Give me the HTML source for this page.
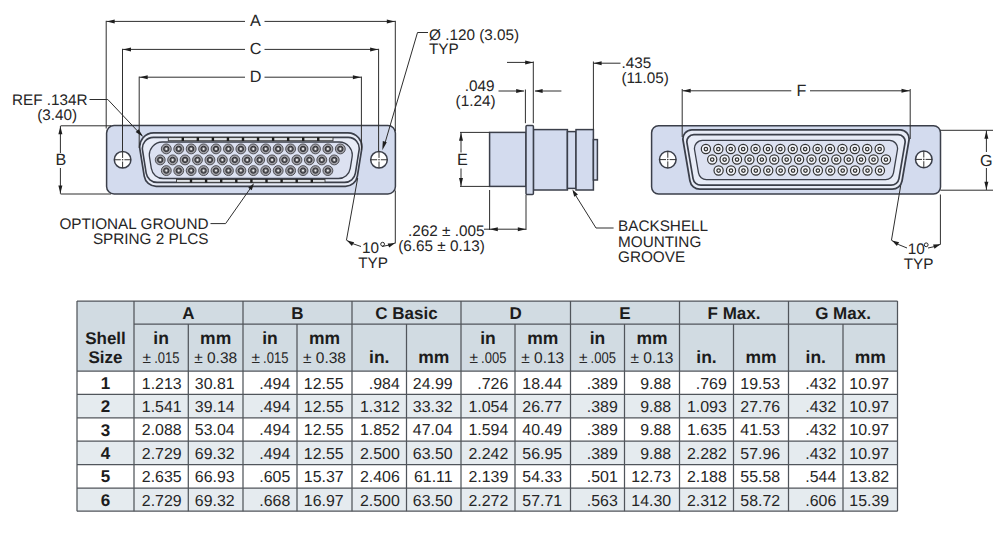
<!DOCTYPE html>
<html><head><meta charset="utf-8"><style>html,body{margin:0;padding:0;background:#fff;width:1000px;height:537px;overflow:hidden;position:relative}</style></head><body>
<svg width="1000" height="537" viewBox="0 0 1000 537" style="position:absolute;left:0;top:0;font-family:'Liberation Sans', sans-serif;text-rendering:geometricPrecision">
<rect width="1000" height="537" fill="#fff"/>
<rect x="106.6" y="125.6" width="288.8" height="68.4" rx="7.5" fill="#d3dbee" stroke="#3b3f4a" stroke-width="1.5"/>
<path d="M153.71,132.80 L347.89,132.80 A14,14 0 0 1 361.72,149.01 L357.37,176.20 A12,12 0 0 1 345.52,186.30 L156.08,186.30 A12,12 0 0 1 144.23,176.20 L139.88,149.01 A14,14 0 0 1 153.71,132.80Z" fill="#e8ecf7" stroke="#3b3f4a" stroke-width="1.7"/>
<path d="M153.37,137.40 L348.23,137.40 A11,11 0 0 1 359.09,150.14 L355.41,173.14 A11,11 0 0 1 344.55,182.40 L157.05,182.40 A11,11 0 0 1 146.19,173.14 L142.51,150.14 A11,11 0 0 1 153.37,137.40Z" fill="#e8ecf7" stroke="#3b3f4a" stroke-width="1.6"/>
<path d="M162.35,142.00 L339.25,142.00 A13,13 0 0 1 352.09,157.05 L350.27,168.40 A12,12 0 0 1 338.42,178.50 L163.18,178.50 A12,12 0 0 1 151.33,168.40 L149.51,157.05 A13,13 0 0 1 162.35,142.00Z" fill="#dce1f1" stroke="#3b3f4a" stroke-width="1.3"/>
<rect x="168.3" y="137.6" width="164.7" height="3.0999999999999943" fill="#e2e5ea" stroke="#3a3a3a" stroke-width="0.9"/>
<rect x="181.60" y="137.29999999999998" width="2.4" height="3.6999999999999944" fill="#1e1e1e"/>
<rect x="196.65" y="137.29999999999998" width="2.4" height="3.6999999999999944" fill="#1e1e1e"/>
<rect x="211.70" y="137.29999999999998" width="2.4" height="3.6999999999999944" fill="#1e1e1e"/>
<rect x="226.75" y="137.29999999999998" width="2.4" height="3.6999999999999944" fill="#1e1e1e"/>
<rect x="241.80" y="137.29999999999998" width="2.4" height="3.6999999999999944" fill="#1e1e1e"/>
<rect x="256.85" y="137.29999999999998" width="2.4" height="3.6999999999999944" fill="#1e1e1e"/>
<rect x="271.90" y="137.29999999999998" width="2.4" height="3.6999999999999944" fill="#1e1e1e"/>
<rect x="286.95" y="137.29999999999998" width="2.4" height="3.6999999999999944" fill="#1e1e1e"/>
<rect x="302.00" y="137.29999999999998" width="2.4" height="3.6999999999999944" fill="#1e1e1e"/>
<rect x="317.05" y="137.29999999999998" width="2.4" height="3.6999999999999944" fill="#1e1e1e"/>
<rect x="176.5" y="179.5" width="148.5" height="2.8000000000000114" fill="#e2e5ea" stroke="#3a3a3a" stroke-width="0.9"/>
<rect x="189.80" y="179.2" width="2.4" height="3.4000000000000115" fill="#1e1e1e"/>
<rect x="204.90" y="179.2" width="2.4" height="3.4000000000000115" fill="#1e1e1e"/>
<rect x="220.00" y="179.2" width="2.4" height="3.4000000000000115" fill="#1e1e1e"/>
<rect x="235.10" y="179.2" width="2.4" height="3.4000000000000115" fill="#1e1e1e"/>
<rect x="250.20" y="179.2" width="2.4" height="3.4000000000000115" fill="#1e1e1e"/>
<rect x="265.30" y="179.2" width="2.4" height="3.4000000000000115" fill="#1e1e1e"/>
<rect x="280.40" y="179.2" width="2.4" height="3.4000000000000115" fill="#1e1e1e"/>
<rect x="295.50" y="179.2" width="2.4" height="3.4000000000000115" fill="#1e1e1e"/>
<rect x="310.60" y="179.2" width="2.4" height="3.4000000000000115" fill="#1e1e1e"/>
<circle cx="166.30" cy="148.9" r="4.95" fill="#a0a0a6" stroke="#4a4a50" stroke-width="0.95"/>
<circle cx="166.30" cy="148.9" r="2.65" fill="#66666c" stroke="#2e2e32" stroke-width="1.0"/>
<circle cx="166.30" cy="148.9" r="1.05" fill="#eeeeee"/>
<circle cx="178.73" cy="148.9" r="4.95" fill="#a0a0a6" stroke="#4a4a50" stroke-width="0.95"/>
<circle cx="178.73" cy="148.9" r="2.65" fill="#66666c" stroke="#2e2e32" stroke-width="1.0"/>
<circle cx="178.73" cy="148.9" r="1.05" fill="#eeeeee"/>
<circle cx="191.16" cy="148.9" r="4.95" fill="#a0a0a6" stroke="#4a4a50" stroke-width="0.95"/>
<circle cx="191.16" cy="148.9" r="2.65" fill="#66666c" stroke="#2e2e32" stroke-width="1.0"/>
<circle cx="191.16" cy="148.9" r="1.05" fill="#eeeeee"/>
<circle cx="203.59" cy="148.9" r="4.95" fill="#a0a0a6" stroke="#4a4a50" stroke-width="0.95"/>
<circle cx="203.59" cy="148.9" r="2.65" fill="#66666c" stroke="#2e2e32" stroke-width="1.0"/>
<circle cx="203.59" cy="148.9" r="1.05" fill="#eeeeee"/>
<circle cx="216.02" cy="148.9" r="4.95" fill="#a0a0a6" stroke="#4a4a50" stroke-width="0.95"/>
<circle cx="216.02" cy="148.9" r="2.65" fill="#66666c" stroke="#2e2e32" stroke-width="1.0"/>
<circle cx="216.02" cy="148.9" r="1.05" fill="#eeeeee"/>
<circle cx="228.45" cy="148.9" r="4.95" fill="#a0a0a6" stroke="#4a4a50" stroke-width="0.95"/>
<circle cx="228.45" cy="148.9" r="2.65" fill="#66666c" stroke="#2e2e32" stroke-width="1.0"/>
<circle cx="228.45" cy="148.9" r="1.05" fill="#eeeeee"/>
<circle cx="240.88" cy="148.9" r="4.95" fill="#a0a0a6" stroke="#4a4a50" stroke-width="0.95"/>
<circle cx="240.88" cy="148.9" r="2.65" fill="#66666c" stroke="#2e2e32" stroke-width="1.0"/>
<circle cx="240.88" cy="148.9" r="1.05" fill="#eeeeee"/>
<circle cx="253.31" cy="148.9" r="4.95" fill="#a0a0a6" stroke="#4a4a50" stroke-width="0.95"/>
<circle cx="253.31" cy="148.9" r="2.65" fill="#66666c" stroke="#2e2e32" stroke-width="1.0"/>
<circle cx="253.31" cy="148.9" r="1.05" fill="#eeeeee"/>
<circle cx="265.74" cy="148.9" r="4.95" fill="#a0a0a6" stroke="#4a4a50" stroke-width="0.95"/>
<circle cx="265.74" cy="148.9" r="2.65" fill="#66666c" stroke="#2e2e32" stroke-width="1.0"/>
<circle cx="265.74" cy="148.9" r="1.05" fill="#eeeeee"/>
<circle cx="278.17" cy="148.9" r="4.95" fill="#a0a0a6" stroke="#4a4a50" stroke-width="0.95"/>
<circle cx="278.17" cy="148.9" r="2.65" fill="#66666c" stroke="#2e2e32" stroke-width="1.0"/>
<circle cx="278.17" cy="148.9" r="1.05" fill="#eeeeee"/>
<circle cx="290.60" cy="148.9" r="4.95" fill="#a0a0a6" stroke="#4a4a50" stroke-width="0.95"/>
<circle cx="290.60" cy="148.9" r="2.65" fill="#66666c" stroke="#2e2e32" stroke-width="1.0"/>
<circle cx="290.60" cy="148.9" r="1.05" fill="#eeeeee"/>
<circle cx="303.03" cy="148.9" r="4.95" fill="#a0a0a6" stroke="#4a4a50" stroke-width="0.95"/>
<circle cx="303.03" cy="148.9" r="2.65" fill="#66666c" stroke="#2e2e32" stroke-width="1.0"/>
<circle cx="303.03" cy="148.9" r="1.05" fill="#eeeeee"/>
<circle cx="315.46" cy="148.9" r="4.95" fill="#a0a0a6" stroke="#4a4a50" stroke-width="0.95"/>
<circle cx="315.46" cy="148.9" r="2.65" fill="#66666c" stroke="#2e2e32" stroke-width="1.0"/>
<circle cx="315.46" cy="148.9" r="1.05" fill="#eeeeee"/>
<circle cx="327.89" cy="148.9" r="4.95" fill="#a0a0a6" stroke="#4a4a50" stroke-width="0.95"/>
<circle cx="327.89" cy="148.9" r="2.65" fill="#66666c" stroke="#2e2e32" stroke-width="1.0"/>
<circle cx="327.89" cy="148.9" r="1.05" fill="#eeeeee"/>
<circle cx="340.32" cy="148.9" r="4.95" fill="#a0a0a6" stroke="#4a4a50" stroke-width="0.95"/>
<circle cx="340.32" cy="148.9" r="2.65" fill="#66666c" stroke="#2e2e32" stroke-width="1.0"/>
<circle cx="340.32" cy="148.9" r="1.05" fill="#eeeeee"/>
<circle cx="160.20" cy="159.9" r="4.95" fill="#a0a0a6" stroke="#4a4a50" stroke-width="0.95"/>
<circle cx="160.20" cy="159.9" r="2.65" fill="#66666c" stroke="#2e2e32" stroke-width="1.0"/>
<circle cx="160.20" cy="159.9" r="1.05" fill="#eeeeee"/>
<circle cx="172.63" cy="159.9" r="4.95" fill="#a0a0a6" stroke="#4a4a50" stroke-width="0.95"/>
<circle cx="172.63" cy="159.9" r="2.65" fill="#66666c" stroke="#2e2e32" stroke-width="1.0"/>
<circle cx="172.63" cy="159.9" r="1.05" fill="#eeeeee"/>
<circle cx="185.06" cy="159.9" r="4.95" fill="#a0a0a6" stroke="#4a4a50" stroke-width="0.95"/>
<circle cx="185.06" cy="159.9" r="2.65" fill="#66666c" stroke="#2e2e32" stroke-width="1.0"/>
<circle cx="185.06" cy="159.9" r="1.05" fill="#eeeeee"/>
<circle cx="197.49" cy="159.9" r="4.95" fill="#a0a0a6" stroke="#4a4a50" stroke-width="0.95"/>
<circle cx="197.49" cy="159.9" r="2.65" fill="#66666c" stroke="#2e2e32" stroke-width="1.0"/>
<circle cx="197.49" cy="159.9" r="1.05" fill="#eeeeee"/>
<circle cx="209.92" cy="159.9" r="4.95" fill="#a0a0a6" stroke="#4a4a50" stroke-width="0.95"/>
<circle cx="209.92" cy="159.9" r="2.65" fill="#66666c" stroke="#2e2e32" stroke-width="1.0"/>
<circle cx="209.92" cy="159.9" r="1.05" fill="#eeeeee"/>
<circle cx="222.35" cy="159.9" r="4.95" fill="#a0a0a6" stroke="#4a4a50" stroke-width="0.95"/>
<circle cx="222.35" cy="159.9" r="2.65" fill="#66666c" stroke="#2e2e32" stroke-width="1.0"/>
<circle cx="222.35" cy="159.9" r="1.05" fill="#eeeeee"/>
<circle cx="234.78" cy="159.9" r="4.95" fill="#a0a0a6" stroke="#4a4a50" stroke-width="0.95"/>
<circle cx="234.78" cy="159.9" r="2.65" fill="#66666c" stroke="#2e2e32" stroke-width="1.0"/>
<circle cx="234.78" cy="159.9" r="1.05" fill="#eeeeee"/>
<circle cx="247.21" cy="159.9" r="4.95" fill="#a0a0a6" stroke="#4a4a50" stroke-width="0.95"/>
<circle cx="247.21" cy="159.9" r="2.65" fill="#66666c" stroke="#2e2e32" stroke-width="1.0"/>
<circle cx="247.21" cy="159.9" r="1.05" fill="#eeeeee"/>
<circle cx="259.64" cy="159.9" r="4.95" fill="#a0a0a6" stroke="#4a4a50" stroke-width="0.95"/>
<circle cx="259.64" cy="159.9" r="2.65" fill="#66666c" stroke="#2e2e32" stroke-width="1.0"/>
<circle cx="259.64" cy="159.9" r="1.05" fill="#eeeeee"/>
<circle cx="272.07" cy="159.9" r="4.95" fill="#a0a0a6" stroke="#4a4a50" stroke-width="0.95"/>
<circle cx="272.07" cy="159.9" r="2.65" fill="#66666c" stroke="#2e2e32" stroke-width="1.0"/>
<circle cx="272.07" cy="159.9" r="1.05" fill="#eeeeee"/>
<circle cx="284.50" cy="159.9" r="4.95" fill="#a0a0a6" stroke="#4a4a50" stroke-width="0.95"/>
<circle cx="284.50" cy="159.9" r="2.65" fill="#66666c" stroke="#2e2e32" stroke-width="1.0"/>
<circle cx="284.50" cy="159.9" r="1.05" fill="#eeeeee"/>
<circle cx="296.93" cy="159.9" r="4.95" fill="#a0a0a6" stroke="#4a4a50" stroke-width="0.95"/>
<circle cx="296.93" cy="159.9" r="2.65" fill="#66666c" stroke="#2e2e32" stroke-width="1.0"/>
<circle cx="296.93" cy="159.9" r="1.05" fill="#eeeeee"/>
<circle cx="309.36" cy="159.9" r="4.95" fill="#a0a0a6" stroke="#4a4a50" stroke-width="0.95"/>
<circle cx="309.36" cy="159.9" r="2.65" fill="#66666c" stroke="#2e2e32" stroke-width="1.0"/>
<circle cx="309.36" cy="159.9" r="1.05" fill="#eeeeee"/>
<circle cx="321.79" cy="159.9" r="4.95" fill="#a0a0a6" stroke="#4a4a50" stroke-width="0.95"/>
<circle cx="321.79" cy="159.9" r="2.65" fill="#66666c" stroke="#2e2e32" stroke-width="1.0"/>
<circle cx="321.79" cy="159.9" r="1.05" fill="#eeeeee"/>
<circle cx="334.22" cy="159.9" r="4.95" fill="#a0a0a6" stroke="#4a4a50" stroke-width="0.95"/>
<circle cx="334.22" cy="159.9" r="2.65" fill="#66666c" stroke="#2e2e32" stroke-width="1.0"/>
<circle cx="334.22" cy="159.9" r="1.05" fill="#eeeeee"/>
<circle cx="166.30" cy="170.6" r="4.95" fill="#a0a0a6" stroke="#4a4a50" stroke-width="0.95"/>
<circle cx="166.30" cy="170.6" r="2.65" fill="#66666c" stroke="#2e2e32" stroke-width="1.0"/>
<circle cx="166.30" cy="170.6" r="1.05" fill="#eeeeee"/>
<circle cx="178.73" cy="170.6" r="4.95" fill="#a0a0a6" stroke="#4a4a50" stroke-width="0.95"/>
<circle cx="178.73" cy="170.6" r="2.65" fill="#66666c" stroke="#2e2e32" stroke-width="1.0"/>
<circle cx="178.73" cy="170.6" r="1.05" fill="#eeeeee"/>
<circle cx="191.16" cy="170.6" r="4.95" fill="#a0a0a6" stroke="#4a4a50" stroke-width="0.95"/>
<circle cx="191.16" cy="170.6" r="2.65" fill="#66666c" stroke="#2e2e32" stroke-width="1.0"/>
<circle cx="191.16" cy="170.6" r="1.05" fill="#eeeeee"/>
<circle cx="203.59" cy="170.6" r="4.95" fill="#a0a0a6" stroke="#4a4a50" stroke-width="0.95"/>
<circle cx="203.59" cy="170.6" r="2.65" fill="#66666c" stroke="#2e2e32" stroke-width="1.0"/>
<circle cx="203.59" cy="170.6" r="1.05" fill="#eeeeee"/>
<circle cx="216.02" cy="170.6" r="4.95" fill="#a0a0a6" stroke="#4a4a50" stroke-width="0.95"/>
<circle cx="216.02" cy="170.6" r="2.65" fill="#66666c" stroke="#2e2e32" stroke-width="1.0"/>
<circle cx="216.02" cy="170.6" r="1.05" fill="#eeeeee"/>
<circle cx="228.45" cy="170.6" r="4.95" fill="#a0a0a6" stroke="#4a4a50" stroke-width="0.95"/>
<circle cx="228.45" cy="170.6" r="2.65" fill="#66666c" stroke="#2e2e32" stroke-width="1.0"/>
<circle cx="228.45" cy="170.6" r="1.05" fill="#eeeeee"/>
<circle cx="240.88" cy="170.6" r="4.95" fill="#a0a0a6" stroke="#4a4a50" stroke-width="0.95"/>
<circle cx="240.88" cy="170.6" r="2.65" fill="#66666c" stroke="#2e2e32" stroke-width="1.0"/>
<circle cx="240.88" cy="170.6" r="1.05" fill="#eeeeee"/>
<circle cx="253.31" cy="170.6" r="4.95" fill="#a0a0a6" stroke="#4a4a50" stroke-width="0.95"/>
<circle cx="253.31" cy="170.6" r="2.65" fill="#66666c" stroke="#2e2e32" stroke-width="1.0"/>
<circle cx="253.31" cy="170.6" r="1.05" fill="#eeeeee"/>
<circle cx="265.74" cy="170.6" r="4.95" fill="#a0a0a6" stroke="#4a4a50" stroke-width="0.95"/>
<circle cx="265.74" cy="170.6" r="2.65" fill="#66666c" stroke="#2e2e32" stroke-width="1.0"/>
<circle cx="265.74" cy="170.6" r="1.05" fill="#eeeeee"/>
<circle cx="278.17" cy="170.6" r="4.95" fill="#a0a0a6" stroke="#4a4a50" stroke-width="0.95"/>
<circle cx="278.17" cy="170.6" r="2.65" fill="#66666c" stroke="#2e2e32" stroke-width="1.0"/>
<circle cx="278.17" cy="170.6" r="1.05" fill="#eeeeee"/>
<circle cx="290.60" cy="170.6" r="4.95" fill="#a0a0a6" stroke="#4a4a50" stroke-width="0.95"/>
<circle cx="290.60" cy="170.6" r="2.65" fill="#66666c" stroke="#2e2e32" stroke-width="1.0"/>
<circle cx="290.60" cy="170.6" r="1.05" fill="#eeeeee"/>
<circle cx="303.03" cy="170.6" r="4.95" fill="#a0a0a6" stroke="#4a4a50" stroke-width="0.95"/>
<circle cx="303.03" cy="170.6" r="2.65" fill="#66666c" stroke="#2e2e32" stroke-width="1.0"/>
<circle cx="303.03" cy="170.6" r="1.05" fill="#eeeeee"/>
<circle cx="315.46" cy="170.6" r="4.95" fill="#a0a0a6" stroke="#4a4a50" stroke-width="0.95"/>
<circle cx="315.46" cy="170.6" r="2.65" fill="#66666c" stroke="#2e2e32" stroke-width="1.0"/>
<circle cx="315.46" cy="170.6" r="1.05" fill="#eeeeee"/>
<circle cx="327.89" cy="170.6" r="4.95" fill="#a0a0a6" stroke="#4a4a50" stroke-width="0.95"/>
<circle cx="327.89" cy="170.6" r="2.65" fill="#66666c" stroke="#2e2e32" stroke-width="1.0"/>
<circle cx="327.89" cy="170.6" r="1.05" fill="#eeeeee"/>
<circle cx="122.6" cy="159.75" r="8.3" fill="#fff" stroke="#3b3f4a" stroke-width="1.5"/>
<line x1="114.30" y1="159.75" x2="120.80" y2="159.75" stroke="#333" stroke-width="1"/>
<line x1="124.40" y1="159.75" x2="130.90" y2="159.75" stroke="#333" stroke-width="1"/>
<line x1="122.60" y1="151.45" x2="122.60" y2="157.95" stroke="#333" stroke-width="1"/>
<line x1="122.60" y1="161.55" x2="122.60" y2="168.05" stroke="#333" stroke-width="1"/>
<circle cx="122.6" cy="159.75" r="0.8" fill="#333"/>
<circle cx="379.0" cy="159.75" r="8.3" fill="#fff" stroke="#3b3f4a" stroke-width="1.5"/>
<line x1="370.70" y1="159.75" x2="377.20" y2="159.75" stroke="#333" stroke-width="1"/>
<line x1="380.80" y1="159.75" x2="387.30" y2="159.75" stroke="#333" stroke-width="1"/>
<line x1="379.00" y1="151.45" x2="379.00" y2="157.95" stroke="#333" stroke-width="1"/>
<line x1="379.00" y1="161.55" x2="379.00" y2="168.05" stroke="#333" stroke-width="1"/>
<circle cx="379.0" cy="159.75" r="0.8" fill="#333"/>
<rect x="651.6" y="125.7" width="288.9" height="68.3" rx="7" fill="#d3dbee" stroke="#3b3f4a" stroke-width="1.5"/>
<path d="M691.93,129.80 L900.07,129.80 A9,9 0 0 1 908.95,140.31 L902.05,180.88 A10,10 0 0 1 892.19,189.20 L699.81,189.20 A10,10 0 0 1 689.95,180.88 L683.05,140.31 A9,9 0 0 1 691.93,129.80Z" fill="#e8ecf7" stroke="#3b3f4a" stroke-width="1.8"/>
<path d="M693.87,134.60 L898.13,134.60 A7,7 0 0 1 905.03,142.77 L898.95,178.54 A8,8 0 0 1 891.06,185.20 L700.94,185.20 A8,8 0 0 1 693.05,178.54 L686.97,142.77 A7,7 0 0 1 693.87,134.60Z" fill="#e8ecf7" stroke="#3b3f4a" stroke-width="1.7"/>
<path d="M702.44,140.40 L889.56,140.40 A8,8 0 0 1 897.44,149.74 L893.50,172.94 A8,8 0 0 1 885.61,179.60 L706.39,179.60 A8,8 0 0 1 698.50,172.94 L694.56,149.74 A8,8 0 0 1 702.44,140.40Z" fill="#dce1f1" stroke="#3b3f4a" stroke-width="1.3"/>
<circle cx="705.90" cy="149.0" r="4.6" fill="#f4f6fb" stroke="#333" stroke-width="1.2"/>
<circle cx="705.90" cy="149.0" r="1.75" fill="#fafafa" stroke="#333" stroke-width="1.25"/>
<circle cx="718.31" cy="149.0" r="4.6" fill="#f4f6fb" stroke="#333" stroke-width="1.2"/>
<circle cx="718.31" cy="149.0" r="1.75" fill="#fafafa" stroke="#333" stroke-width="1.25"/>
<circle cx="730.72" cy="149.0" r="4.6" fill="#f4f6fb" stroke="#333" stroke-width="1.2"/>
<circle cx="730.72" cy="149.0" r="1.75" fill="#fafafa" stroke="#333" stroke-width="1.25"/>
<circle cx="743.13" cy="149.0" r="4.6" fill="#f4f6fb" stroke="#333" stroke-width="1.2"/>
<circle cx="743.13" cy="149.0" r="1.75" fill="#fafafa" stroke="#333" stroke-width="1.25"/>
<circle cx="755.54" cy="149.0" r="4.6" fill="#f4f6fb" stroke="#333" stroke-width="1.2"/>
<circle cx="755.54" cy="149.0" r="1.75" fill="#fafafa" stroke="#333" stroke-width="1.25"/>
<circle cx="767.95" cy="149.0" r="4.6" fill="#f4f6fb" stroke="#333" stroke-width="1.2"/>
<circle cx="767.95" cy="149.0" r="1.75" fill="#fafafa" stroke="#333" stroke-width="1.25"/>
<circle cx="780.36" cy="149.0" r="4.6" fill="#f4f6fb" stroke="#333" stroke-width="1.2"/>
<circle cx="780.36" cy="149.0" r="1.75" fill="#fafafa" stroke="#333" stroke-width="1.25"/>
<circle cx="792.77" cy="149.0" r="4.6" fill="#f4f6fb" stroke="#333" stroke-width="1.2"/>
<circle cx="792.77" cy="149.0" r="1.75" fill="#fafafa" stroke="#333" stroke-width="1.25"/>
<circle cx="805.18" cy="149.0" r="4.6" fill="#f4f6fb" stroke="#333" stroke-width="1.2"/>
<circle cx="805.18" cy="149.0" r="1.75" fill="#fafafa" stroke="#333" stroke-width="1.25"/>
<circle cx="817.59" cy="149.0" r="4.6" fill="#f4f6fb" stroke="#333" stroke-width="1.2"/>
<circle cx="817.59" cy="149.0" r="1.75" fill="#fafafa" stroke="#333" stroke-width="1.25"/>
<circle cx="830.00" cy="149.0" r="4.6" fill="#f4f6fb" stroke="#333" stroke-width="1.2"/>
<circle cx="830.00" cy="149.0" r="1.75" fill="#fafafa" stroke="#333" stroke-width="1.25"/>
<circle cx="842.41" cy="149.0" r="4.6" fill="#f4f6fb" stroke="#333" stroke-width="1.2"/>
<circle cx="842.41" cy="149.0" r="1.75" fill="#fafafa" stroke="#333" stroke-width="1.25"/>
<circle cx="854.82" cy="149.0" r="4.6" fill="#f4f6fb" stroke="#333" stroke-width="1.2"/>
<circle cx="854.82" cy="149.0" r="1.75" fill="#fafafa" stroke="#333" stroke-width="1.25"/>
<circle cx="867.23" cy="149.0" r="4.6" fill="#f4f6fb" stroke="#333" stroke-width="1.2"/>
<circle cx="867.23" cy="149.0" r="1.75" fill="#fafafa" stroke="#333" stroke-width="1.25"/>
<circle cx="879.64" cy="149.0" r="4.6" fill="#f4f6fb" stroke="#333" stroke-width="1.2"/>
<circle cx="879.64" cy="149.0" r="1.75" fill="#fafafa" stroke="#333" stroke-width="1.25"/>
<circle cx="712.20" cy="159.5" r="4.6" fill="#f4f6fb" stroke="#333" stroke-width="1.2"/>
<circle cx="712.20" cy="159.5" r="1.75" fill="#fafafa" stroke="#333" stroke-width="1.25"/>
<circle cx="724.61" cy="159.5" r="4.6" fill="#f4f6fb" stroke="#333" stroke-width="1.2"/>
<circle cx="724.61" cy="159.5" r="1.75" fill="#fafafa" stroke="#333" stroke-width="1.25"/>
<circle cx="737.02" cy="159.5" r="4.6" fill="#f4f6fb" stroke="#333" stroke-width="1.2"/>
<circle cx="737.02" cy="159.5" r="1.75" fill="#fafafa" stroke="#333" stroke-width="1.25"/>
<circle cx="749.43" cy="159.5" r="4.6" fill="#f4f6fb" stroke="#333" stroke-width="1.2"/>
<circle cx="749.43" cy="159.5" r="1.75" fill="#fafafa" stroke="#333" stroke-width="1.25"/>
<circle cx="761.84" cy="159.5" r="4.6" fill="#f4f6fb" stroke="#333" stroke-width="1.2"/>
<circle cx="761.84" cy="159.5" r="1.75" fill="#fafafa" stroke="#333" stroke-width="1.25"/>
<circle cx="774.25" cy="159.5" r="4.6" fill="#f4f6fb" stroke="#333" stroke-width="1.2"/>
<circle cx="774.25" cy="159.5" r="1.75" fill="#fafafa" stroke="#333" stroke-width="1.25"/>
<circle cx="786.66" cy="159.5" r="4.6" fill="#f4f6fb" stroke="#333" stroke-width="1.2"/>
<circle cx="786.66" cy="159.5" r="1.75" fill="#fafafa" stroke="#333" stroke-width="1.25"/>
<circle cx="799.07" cy="159.5" r="4.6" fill="#f4f6fb" stroke="#333" stroke-width="1.2"/>
<circle cx="799.07" cy="159.5" r="1.75" fill="#fafafa" stroke="#333" stroke-width="1.25"/>
<circle cx="811.48" cy="159.5" r="4.6" fill="#f4f6fb" stroke="#333" stroke-width="1.2"/>
<circle cx="811.48" cy="159.5" r="1.75" fill="#fafafa" stroke="#333" stroke-width="1.25"/>
<circle cx="823.89" cy="159.5" r="4.6" fill="#f4f6fb" stroke="#333" stroke-width="1.2"/>
<circle cx="823.89" cy="159.5" r="1.75" fill="#fafafa" stroke="#333" stroke-width="1.25"/>
<circle cx="836.30" cy="159.5" r="4.6" fill="#f4f6fb" stroke="#333" stroke-width="1.2"/>
<circle cx="836.30" cy="159.5" r="1.75" fill="#fafafa" stroke="#333" stroke-width="1.25"/>
<circle cx="848.71" cy="159.5" r="4.6" fill="#f4f6fb" stroke="#333" stroke-width="1.2"/>
<circle cx="848.71" cy="159.5" r="1.75" fill="#fafafa" stroke="#333" stroke-width="1.25"/>
<circle cx="861.12" cy="159.5" r="4.6" fill="#f4f6fb" stroke="#333" stroke-width="1.2"/>
<circle cx="861.12" cy="159.5" r="1.75" fill="#fafafa" stroke="#333" stroke-width="1.25"/>
<circle cx="873.53" cy="159.5" r="4.6" fill="#f4f6fb" stroke="#333" stroke-width="1.2"/>
<circle cx="873.53" cy="159.5" r="1.75" fill="#fafafa" stroke="#333" stroke-width="1.25"/>
<circle cx="885.94" cy="159.5" r="4.6" fill="#f4f6fb" stroke="#333" stroke-width="1.2"/>
<circle cx="885.94" cy="159.5" r="1.75" fill="#fafafa" stroke="#333" stroke-width="1.25"/>
<circle cx="718.60" cy="170.5" r="4.6" fill="#f4f6fb" stroke="#333" stroke-width="1.2"/>
<circle cx="718.60" cy="170.5" r="1.75" fill="#fafafa" stroke="#333" stroke-width="1.25"/>
<circle cx="731.01" cy="170.5" r="4.6" fill="#f4f6fb" stroke="#333" stroke-width="1.2"/>
<circle cx="731.01" cy="170.5" r="1.75" fill="#fafafa" stroke="#333" stroke-width="1.25"/>
<circle cx="743.42" cy="170.5" r="4.6" fill="#f4f6fb" stroke="#333" stroke-width="1.2"/>
<circle cx="743.42" cy="170.5" r="1.75" fill="#fafafa" stroke="#333" stroke-width="1.25"/>
<circle cx="755.83" cy="170.5" r="4.6" fill="#f4f6fb" stroke="#333" stroke-width="1.2"/>
<circle cx="755.83" cy="170.5" r="1.75" fill="#fafafa" stroke="#333" stroke-width="1.25"/>
<circle cx="768.24" cy="170.5" r="4.6" fill="#f4f6fb" stroke="#333" stroke-width="1.2"/>
<circle cx="768.24" cy="170.5" r="1.75" fill="#fafafa" stroke="#333" stroke-width="1.25"/>
<circle cx="780.65" cy="170.5" r="4.6" fill="#f4f6fb" stroke="#333" stroke-width="1.2"/>
<circle cx="780.65" cy="170.5" r="1.75" fill="#fafafa" stroke="#333" stroke-width="1.25"/>
<circle cx="793.06" cy="170.5" r="4.6" fill="#f4f6fb" stroke="#333" stroke-width="1.2"/>
<circle cx="793.06" cy="170.5" r="1.75" fill="#fafafa" stroke="#333" stroke-width="1.25"/>
<circle cx="805.47" cy="170.5" r="4.6" fill="#f4f6fb" stroke="#333" stroke-width="1.2"/>
<circle cx="805.47" cy="170.5" r="1.75" fill="#fafafa" stroke="#333" stroke-width="1.25"/>
<circle cx="817.88" cy="170.5" r="4.6" fill="#f4f6fb" stroke="#333" stroke-width="1.2"/>
<circle cx="817.88" cy="170.5" r="1.75" fill="#fafafa" stroke="#333" stroke-width="1.25"/>
<circle cx="830.29" cy="170.5" r="4.6" fill="#f4f6fb" stroke="#333" stroke-width="1.2"/>
<circle cx="830.29" cy="170.5" r="1.75" fill="#fafafa" stroke="#333" stroke-width="1.25"/>
<circle cx="842.70" cy="170.5" r="4.6" fill="#f4f6fb" stroke="#333" stroke-width="1.2"/>
<circle cx="842.70" cy="170.5" r="1.75" fill="#fafafa" stroke="#333" stroke-width="1.25"/>
<circle cx="855.11" cy="170.5" r="4.6" fill="#f4f6fb" stroke="#333" stroke-width="1.2"/>
<circle cx="855.11" cy="170.5" r="1.75" fill="#fafafa" stroke="#333" stroke-width="1.25"/>
<circle cx="867.52" cy="170.5" r="4.6" fill="#f4f6fb" stroke="#333" stroke-width="1.2"/>
<circle cx="867.52" cy="170.5" r="1.75" fill="#fafafa" stroke="#333" stroke-width="1.25"/>
<circle cx="879.93" cy="170.5" r="4.6" fill="#f4f6fb" stroke="#333" stroke-width="1.2"/>
<circle cx="879.93" cy="170.5" r="1.75" fill="#fafafa" stroke="#333" stroke-width="1.25"/>
<circle cx="667.8" cy="159.6" r="8.3" fill="#fff" stroke="#3b3f4a" stroke-width="1.5"/>
<line x1="659.50" y1="159.60" x2="666.00" y2="159.60" stroke="#333" stroke-width="1"/>
<line x1="669.60" y1="159.60" x2="676.10" y2="159.60" stroke="#333" stroke-width="1"/>
<line x1="667.80" y1="151.30" x2="667.80" y2="157.80" stroke="#333" stroke-width="1"/>
<line x1="667.80" y1="161.40" x2="667.80" y2="167.90" stroke="#333" stroke-width="1"/>
<circle cx="667.8" cy="159.6" r="0.8" fill="#333"/>
<circle cx="923.8" cy="159.4" r="8.3" fill="#fff" stroke="#3b3f4a" stroke-width="1.5"/>
<line x1="915.50" y1="159.40" x2="922.00" y2="159.40" stroke="#333" stroke-width="1"/>
<line x1="925.60" y1="159.40" x2="932.10" y2="159.40" stroke="#333" stroke-width="1"/>
<line x1="923.80" y1="151.10" x2="923.80" y2="157.60" stroke="#333" stroke-width="1"/>
<line x1="923.80" y1="161.20" x2="923.80" y2="167.70" stroke="#333" stroke-width="1"/>
<circle cx="923.8" cy="159.4" r="0.8" fill="#333"/>
<rect x="489.6" y="132.4" width="36.40" height="54.00" rx="0" fill="#d3dbee" stroke="#3b3f4a" stroke-width="1.5"/>
<rect x="533.4" y="129.6" width="34.00" height="60.40" rx="0" fill="#d3dbee" stroke="#3b3f4a" stroke-width="1.5"/>
<rect x="567.4" y="131.6" width="8.60" height="56.80" rx="0" fill="#d3dbee" stroke="#3b3f4a" stroke-width="1.5"/>
<rect x="576" y="129.6" width="17.40" height="60.40" rx="0" fill="#d3dbee" stroke="#3b3f4a" stroke-width="1.5"/>
<rect x="593.4" y="139.6" width="4.00" height="40.40" rx="0" fill="#d3dbee" stroke="#3b3f4a" stroke-width="1.5"/>
<rect x="526" y="125.6" width="7.40" height="68.80" rx="1" fill="#d3dbee" stroke="#3b3f4a" stroke-width="1.5"/>
<line x1="106.2" y1="21.4" x2="245" y2="21.4" stroke="#2e2e2e" stroke-width="1.0"/>
<line x1="264.5" y1="21.4" x2="395.3" y2="21.4" stroke="#2e2e2e" stroke-width="1.0"/>
<polygon points="106.70,21.40 114.70,19.40 114.70,23.40" fill="#1e1e1e"/>
<polygon points="394.80,21.40 386.80,23.40 386.80,19.40" fill="#1e1e1e"/>
<text x="255.5" y="26.4" font-size="16.2" text-anchor="middle" font-weight="normal" fill="#262626" >A</text>
<line x1="122.5" y1="49.4" x2="245" y2="49.4" stroke="#2e2e2e" stroke-width="1.0"/>
<line x1="264.5" y1="49.4" x2="378.6" y2="49.4" stroke="#2e2e2e" stroke-width="1.0"/>
<polygon points="123.00,49.40 131.00,47.40 131.00,51.40" fill="#1e1e1e"/>
<polygon points="378.10,49.40 370.10,51.40 370.10,47.40" fill="#1e1e1e"/>
<text x="255.5" y="54.4" font-size="16.2" text-anchor="middle" font-weight="normal" fill="#262626" >C</text>
<line x1="139.2" y1="77.2" x2="245" y2="77.2" stroke="#2e2e2e" stroke-width="1.0"/>
<line x1="264.5" y1="77.2" x2="361.4" y2="77.2" stroke="#2e2e2e" stroke-width="1.0"/>
<polygon points="139.70,77.20 147.70,75.20 147.70,79.20" fill="#1e1e1e"/>
<polygon points="360.90,77.20 352.90,79.20 352.90,75.20" fill="#1e1e1e"/>
<text x="255.5" y="82.2" font-size="16.2" text-anchor="middle" font-weight="normal" fill="#262626" >D</text>
<line x1="106.2" y1="20.8" x2="106.2" y2="128.5" stroke="#2e2e2e" stroke-width="1.0"/>
<line x1="395.3" y1="20.8" x2="395.3" y2="131" stroke="#2e2e2e" stroke-width="1.0"/>
<line x1="122.5" y1="48.8" x2="122.5" y2="151.5" stroke="#2e2e2e" stroke-width="1.0"/>
<line x1="378.6" y1="48.8" x2="378.6" y2="151.5" stroke="#2e2e2e" stroke-width="1.0"/>
<line x1="139.2" y1="76.6" x2="139.2" y2="148" stroke="#2e2e2e" stroke-width="1.0"/>
<line x1="361.4" y1="76.6" x2="361.4" y2="150" stroke="#2e2e2e" stroke-width="1.0"/>
<line x1="60.6" y1="125.8" x2="111" y2="125.8" stroke="#2e2e2e" stroke-width="1.0"/>
<line x1="60.6" y1="194" x2="111" y2="194" stroke="#2e2e2e" stroke-width="1.0"/>
<line x1="60.4" y1="126" x2="60.4" y2="153" stroke="#2e2e2e" stroke-width="1.0"/>
<line x1="60.4" y1="168" x2="60.4" y2="193.8" stroke="#2e2e2e" stroke-width="1.0"/>
<polygon points="60.40,126.30 62.40,134.30 58.40,134.30" fill="#1e1e1e"/>
<polygon points="60.40,193.60 58.40,185.60 62.40,185.60" fill="#1e1e1e"/>
<text x="61" y="165.3" font-size="16.2" text-anchor="middle" font-weight="normal" fill="#262626" >B</text>
<text x="12" y="105" font-size="15.3" text-anchor="start" font-weight="normal" fill="#262626" >REF .134R</text>
<text x="37.2" y="120.2" font-size="15.3" text-anchor="start" font-weight="normal" fill="#262626" >(3.40)</text>
<polyline points="89.5,99.5 107.8,99.5 141.5,135.2" fill="none" stroke="#2e2e2e" stroke-width="1.0"/>
<polygon points="143.30,137.10 135.67,131.93 138.58,129.18" fill="#1e1e1e"/>
<text x="429" y="39.6" font-size="15.3" text-anchor="start" font-weight="normal" fill="#262626" >Ø .120 (3.05)</text>
<text x="429" y="54" font-size="15.3" text-anchor="start" font-weight="normal" fill="#262626" >TYP</text>
<polyline points="428,32.5 417.5,32.5 384.4,145" fill="none" stroke="#2e2e2e" stroke-width="1.0"/>
<polygon points="382.30,150.20 382.79,140.97 386.82,142.14" fill="#1e1e1e"/>
<text x="208.5" y="228.6" font-size="15.3" text-anchor="end" font-weight="normal" fill="#262626" >OPTIONAL GROUND</text>
<text x="208.5" y="244" font-size="15.3" text-anchor="end" font-weight="normal" fill="#262626" >SPRING 2 PLCS</text>
<polyline points="210.5,223.6 225.6,223.6 252,186" fill="none" stroke="#2e2e2e" stroke-width="1.0"/>
<polygon points="254.00,183.20 251.75,190.19 248.16,187.64" fill="#1e1e1e"/>
<line x1="357.7" y1="178" x2="346.4" y2="240.5" stroke="#2e2e2e" stroke-width="1.0"/>
<line x1="395.3" y1="190.5" x2="395.3" y2="243.5" stroke="#2e2e2e" stroke-width="1.0"/>
<path d="M347,240.5 Q352,244 361,246.5" fill="none" stroke="#2e2e2e" stroke-width="1"/>
<path d="M382,246.5 Q389,245.5 395,243" fill="none" stroke="#2e2e2e" stroke-width="1"/>
<polygon points="347.00,240.50 354.13,242.21 351.87,245.99" fill="#1e1e1e"/>
<polygon points="395.00,243.20 389.12,247.59 387.67,243.44" fill="#1e1e1e"/>
<text x="362" y="253.3" font-size="15.3" text-anchor="start" font-weight="normal" fill="#262626" >10</text>
<circle cx="382.6" cy="244.2" r="1.9" fill="none" stroke="#262626" stroke-width="1"/>
<text x="373" y="268.2" font-size="15.3" text-anchor="middle" font-weight="normal" fill="#262626" >TYP</text>
<line x1="900.7" y1="185.6" x2="891.4" y2="240.6" stroke="#2e2e2e" stroke-width="1.0"/>
<line x1="940.4" y1="194.5" x2="940.4" y2="244.5" stroke="#2e2e2e" stroke-width="1.0"/>
<path d="M892,240.6 Q898,245 907,248" fill="none" stroke="#2e2e2e" stroke-width="1"/>
<path d="M928,248 Q935,247 940.4,244.3" fill="none" stroke="#2e2e2e" stroke-width="1"/>
<polygon points="892.00,240.60 899.13,242.31 896.87,246.09" fill="#1e1e1e"/>
<polygon points="940.40,244.30 934.52,248.69 933.07,244.54" fill="#1e1e1e"/>
<text x="907.8" y="253.6" font-size="15.3" text-anchor="start" font-weight="normal" fill="#262626" >10</text>
<circle cx="926.2" cy="244.8" r="1.9" fill="none" stroke="#262626" stroke-width="1"/>
<text x="918.5" y="269" font-size="15.3" text-anchor="middle" font-weight="normal" fill="#262626" >TYP</text>
<line x1="460" y1="132.4" x2="489.6" y2="132.4" stroke="#2e2e2e" stroke-width="1.0"/>
<line x1="460" y1="186.4" x2="489.6" y2="186.4" stroke="#2e2e2e" stroke-width="1.0"/>
<line x1="461" y1="132.6" x2="461" y2="152.5" stroke="#2e2e2e" stroke-width="1.0"/>
<line x1="461" y1="168.5" x2="461" y2="186.2" stroke="#2e2e2e" stroke-width="1.0"/>
<polygon points="461.00,132.80 463.00,140.80 459.00,140.80" fill="#1e1e1e"/>
<polygon points="461.00,186.00 459.00,178.00 463.00,178.00" fill="#1e1e1e"/>
<text x="462.5" y="165.2" font-size="16.2" text-anchor="middle" font-weight="normal" fill="#262626" >E</text>
<line x1="489.6" y1="190" x2="489.6" y2="230" stroke="#2e2e2e" stroke-width="1.0"/>
<line x1="526" y1="195" x2="526" y2="230" stroke="#2e2e2e" stroke-width="1.0"/>
<line x1="484" y1="229.2" x2="526" y2="229.2" stroke="#2e2e2e" stroke-width="1.0"/>
<polygon points="489.80,229.20 497.80,227.20 497.80,231.20" fill="#1e1e1e"/>
<polygon points="525.80,229.20 517.80,231.20 517.80,227.20" fill="#1e1e1e"/>
<text x="484.5" y="236.2" font-size="15.3" text-anchor="end" font-weight="normal" fill="#262626" >.262 ± .005</text>
<text x="484.8" y="251.2" font-size="15.3" text-anchor="end" font-weight="normal" fill="#262626" >(6.65 ± 0.13)</text>
<line x1="525.4" y1="89.5" x2="525.4" y2="123.2" stroke="#2e2e2e" stroke-width="1.0"/>
<line x1="533.3" y1="61.5" x2="533.3" y2="123.2" stroke="#2e2e2e" stroke-width="1.0"/>
<line x1="498.5" y1="91" x2="524" y2="91" stroke="#2e2e2e" stroke-width="1.0"/>
<polygon points="524.20,91.00 516.20,93.00 516.20,89.00" fill="#1e1e1e"/>
<line x1="535" y1="91" x2="561.4" y2="91" stroke="#2e2e2e" stroke-width="1.0"/>
<polygon points="534.60,91.00 542.60,89.00 542.60,93.00" fill="#1e1e1e"/>
<text x="494.5" y="90.7" font-size="15.3" text-anchor="end" font-weight="normal" fill="#262626" >.049</text>
<text x="495.5" y="105.5" font-size="15.3" text-anchor="end" font-weight="normal" fill="#262626" >(1.24)</text>
<line x1="507" y1="62.4" x2="533.4" y2="62.4" stroke="#2e2e2e" stroke-width="1.0"/>
<polygon points="533.20,62.40 525.20,64.40 525.20,60.40" fill="#1e1e1e"/>
<line x1="593.4" y1="61.5" x2="593.4" y2="129.6" stroke="#2e2e2e" stroke-width="1.0"/>
<line x1="593.4" y1="63.2" x2="620.5" y2="63.2" stroke="#2e2e2e" stroke-width="1.0"/>
<polygon points="593.60,63.20 601.60,61.20 601.60,65.20" fill="#1e1e1e"/>
<text x="621.5" y="67.5" font-size="15.3" text-anchor="start" font-weight="normal" fill="#262626" >.435</text>
<text x="621.5" y="82.5" font-size="15.3" text-anchor="start" font-weight="normal" fill="#262626" >(11.05)</text>
<polyline points="596,228 613.6,228" fill="none" stroke="#2e2e2e" stroke-width="1.0"/>
<line x1="573.5" y1="192" x2="596" y2="228" stroke="#2e2e2e" stroke-width="1.0"/>
<polygon points="572.40,189.60 577.93,194.42 574.18,196.72" fill="#1e1e1e"/>
<text x="618" y="231" font-size="15.3" text-anchor="start" font-weight="normal" fill="#262626" >BACKSHELL</text>
<text x="618" y="246.7" font-size="15.3" text-anchor="start" font-weight="normal" fill="#262626" >MOUNTING</text>
<text x="618" y="262.2" font-size="15.3" text-anchor="start" font-weight="normal" fill="#262626" >GROOVE</text>
<line x1="682.2" y1="89" x2="682.2" y2="137" stroke="#2e2e2e" stroke-width="1.0"/>
<line x1="910.2" y1="89" x2="910.2" y2="139" stroke="#2e2e2e" stroke-width="1.0"/>
<line x1="682.2" y1="90.8" x2="791.3" y2="90.8" stroke="#2e2e2e" stroke-width="1.0"/>
<line x1="810" y1="90.8" x2="910" y2="90.8" stroke="#2e2e2e" stroke-width="1.0"/>
<polygon points="682.70,90.80 690.70,88.80 690.70,92.80" fill="#1e1e1e"/>
<polygon points="909.50,90.80 901.50,92.80 901.50,88.80" fill="#1e1e1e"/>
<text x="801.5" y="96" font-size="16.2" text-anchor="middle" font-weight="normal" fill="#262626" >F</text>
<line x1="940.5" y1="130.3" x2="993" y2="130.3" stroke="#2e2e2e" stroke-width="1.0"/>
<line x1="940.5" y1="190.2" x2="993" y2="190.2" stroke="#2e2e2e" stroke-width="1.0"/>
<line x1="986.4" y1="130.5" x2="986.4" y2="152" stroke="#2e2e2e" stroke-width="1.0"/>
<line x1="986.4" y1="168" x2="986.4" y2="190" stroke="#2e2e2e" stroke-width="1.0"/>
<polygon points="986.40,130.80 988.40,138.80 984.40,138.80" fill="#1e1e1e"/>
<polygon points="986.40,189.80 984.40,181.80 988.40,181.80" fill="#1e1e1e"/>
<text x="986.4" y="166" font-size="16.2" text-anchor="middle" font-weight="normal" fill="#262626" >G</text>
<rect x="77" y="301" width="820.5" height="70" fill="#d1dbe2"/>
<rect x="77" y="371" width="820.5" height="23.399999999999977" fill="#ffffff"/>
<rect x="77" y="394.4" width="820.5" height="23.400000000000034" fill="#e5ebef"/>
<rect x="77" y="417.8" width="820.5" height="23.399999999999977" fill="#ffffff"/>
<rect x="77" y="441.2" width="820.5" height="23.400000000000034" fill="#e5ebef"/>
<rect x="77" y="464.6" width="820.5" height="23.399999999999977" fill="#ffffff"/>
<rect x="77" y="488" width="820.5" height="23.19999999999999" fill="#e5ebef"/>
<line x1="77" y1="301" x2="897.5" y2="301" stroke="#50555b" stroke-width="1.25"/>
<line x1="134" y1="324" x2="897.5" y2="324" stroke="#50555b" stroke-width="1.25"/>
<line x1="77" y1="371" x2="897.5" y2="371" stroke="#50555b" stroke-width="1.25"/>
<line x1="77" y1="394.4" x2="897.5" y2="394.4" stroke="#50555b" stroke-width="1.25"/>
<line x1="77" y1="417.8" x2="897.5" y2="417.8" stroke="#50555b" stroke-width="1.25"/>
<line x1="77" y1="441.2" x2="897.5" y2="441.2" stroke="#50555b" stroke-width="1.25"/>
<line x1="77" y1="464.6" x2="897.5" y2="464.6" stroke="#50555b" stroke-width="1.25"/>
<line x1="77" y1="488" x2="897.5" y2="488" stroke="#50555b" stroke-width="1.25"/>
<line x1="77" y1="511.2" x2="897.5" y2="511.2" stroke="#50555b" stroke-width="1.25"/>
<line x1="77" y1="301" x2="77" y2="511.2" stroke="#50555b" stroke-width="1.25"/>
<line x1="134" y1="301" x2="134" y2="511.2" stroke="#50555b" stroke-width="1.25"/>
<line x1="188.3" y1="324" x2="188.3" y2="511.2" stroke="#50555b" stroke-width="1.25"/>
<line x1="243" y1="301" x2="243" y2="511.2" stroke="#50555b" stroke-width="1.25"/>
<line x1="297" y1="324" x2="297" y2="511.2" stroke="#50555b" stroke-width="1.25"/>
<line x1="352" y1="301" x2="352" y2="511.2" stroke="#50555b" stroke-width="1.25"/>
<line x1="406.5" y1="324" x2="406.5" y2="511.2" stroke="#50555b" stroke-width="1.25"/>
<line x1="461" y1="301" x2="461" y2="511.2" stroke="#50555b" stroke-width="1.25"/>
<line x1="515" y1="324" x2="515" y2="511.2" stroke="#50555b" stroke-width="1.25"/>
<line x1="570.5" y1="301" x2="570.5" y2="511.2" stroke="#50555b" stroke-width="1.25"/>
<line x1="624.5" y1="324" x2="624.5" y2="511.2" stroke="#50555b" stroke-width="1.25"/>
<line x1="679.5" y1="301" x2="679.5" y2="511.2" stroke="#50555b" stroke-width="1.25"/>
<line x1="733.5" y1="324" x2="733.5" y2="511.2" stroke="#50555b" stroke-width="1.25"/>
<line x1="788.5" y1="301" x2="788.5" y2="511.2" stroke="#50555b" stroke-width="1.25"/>
<line x1="843" y1="324" x2="843" y2="511.2" stroke="#50555b" stroke-width="1.25"/>
<line x1="897.5" y1="301" x2="897.5" y2="511.2" stroke="#50555b" stroke-width="1.25"/>
<text x="105.5" y="343.9" font-size="17" text-anchor="middle" font-weight="bold" fill="#1c1c1c" >Shell</text>
<text x="105.5" y="363.1" font-size="17" text-anchor="middle" font-weight="bold" fill="#1c1c1c" >Size</text>
<text x="188.5" y="318.6" font-size="17" text-anchor="middle" font-weight="bold" fill="#1c1c1c" >A</text>
<text x="297.5" y="318.6" font-size="17" text-anchor="middle" font-weight="bold" fill="#1c1c1c" >B</text>
<text x="406.5" y="318.6" font-size="17" text-anchor="middle" font-weight="bold" fill="#1c1c1c" >C Basic</text>
<text x="515.75" y="318.6" font-size="17" text-anchor="middle" font-weight="bold" fill="#1c1c1c" >D</text>
<text x="625.0" y="318.6" font-size="17" text-anchor="middle" font-weight="bold" fill="#1c1c1c" >E</text>
<text x="734.0" y="318.6" font-size="17" text-anchor="middle" font-weight="bold" fill="#1c1c1c" >F Max.</text>
<text x="843.0" y="318.6" font-size="17" text-anchor="middle" font-weight="bold" fill="#1c1c1c" >G Max.</text>
<text x="161.15" y="343.6" font-size="17.5" text-anchor="middle" font-weight="bold" fill="#1c1c1c" >in</text>
<text x="215.65" y="343.6" font-size="17.5" text-anchor="middle" font-weight="bold" fill="#1c1c1c" >mm</text>
<text x="142.55" y="363.2" font-size="15.5" text-anchor="start" font-weight="normal" fill="#262626" >±</text>
<text x="0" y="363.2" font-size="15.5" text-anchor="start" fill="#262626" transform="translate(154.25,0) scale(0.84,1)">.015</text>
<text x="215.65" y="362.8" font-size="15.5" text-anchor="middle" font-weight="normal" fill="#262626" >± 0.38</text>
<text x="270.0" y="343.6" font-size="17.5" text-anchor="middle" font-weight="bold" fill="#1c1c1c" >in</text>
<text x="324.5" y="343.6" font-size="17.5" text-anchor="middle" font-weight="bold" fill="#1c1c1c" >mm</text>
<text x="251.40" y="363.2" font-size="15.5" text-anchor="start" font-weight="normal" fill="#262626" >±</text>
<text x="0" y="363.2" font-size="15.5" text-anchor="start" fill="#262626" transform="translate(263.10,0) scale(0.84,1)">.015</text>
<text x="324.5" y="362.8" font-size="15.5" text-anchor="middle" font-weight="normal" fill="#262626" >± 0.38</text>
<text x="379.25" y="362.5" font-size="17.5" text-anchor="middle" font-weight="bold" fill="#1c1c1c" >in.</text>
<text x="433.75" y="362.5" font-size="17.5" text-anchor="middle" font-weight="bold" fill="#1c1c1c" >mm</text>
<text x="488.0" y="343.6" font-size="17.5" text-anchor="middle" font-weight="bold" fill="#1c1c1c" >in</text>
<text x="542.75" y="343.6" font-size="17.5" text-anchor="middle" font-weight="bold" fill="#1c1c1c" >mm</text>
<text x="469.40" y="363.2" font-size="15.5" text-anchor="start" font-weight="normal" fill="#262626" >±</text>
<text x="0" y="363.2" font-size="15.5" text-anchor="start" fill="#262626" transform="translate(481.10,0) scale(0.84,1)">.005</text>
<text x="542.75" y="362.8" font-size="15.5" text-anchor="middle" font-weight="normal" fill="#262626" >± 0.13</text>
<text x="597.5" y="343.6" font-size="17.5" text-anchor="middle" font-weight="bold" fill="#1c1c1c" >in</text>
<text x="652.0" y="343.6" font-size="17.5" text-anchor="middle" font-weight="bold" fill="#1c1c1c" >mm</text>
<text x="578.90" y="363.2" font-size="15.5" text-anchor="start" font-weight="normal" fill="#262626" >±</text>
<text x="0" y="363.2" font-size="15.5" text-anchor="start" fill="#262626" transform="translate(590.60,0) scale(0.84,1)">.005</text>
<text x="652.0" y="362.8" font-size="15.5" text-anchor="middle" font-weight="normal" fill="#262626" >± 0.13</text>
<text x="706.5" y="362.5" font-size="17.5" text-anchor="middle" font-weight="bold" fill="#1c1c1c" >in.</text>
<text x="761.0" y="362.5" font-size="17.5" text-anchor="middle" font-weight="bold" fill="#1c1c1c" >mm</text>
<text x="815.75" y="362.5" font-size="17.5" text-anchor="middle" font-weight="bold" fill="#1c1c1c" >in.</text>
<text x="870.25" y="362.5" font-size="17.5" text-anchor="middle" font-weight="bold" fill="#1c1c1c" >mm</text>
<text x="105.5" y="388.8" font-size="17" text-anchor="middle" font-weight="bold" fill="#1c1c1c" >1</text>
<text x="181.60" y="388.5" font-size="15.9" text-anchor="end" font-weight="normal" fill="#262626" >1.213</text>
<text x="234.60" y="388.5" font-size="15.9" text-anchor="end" font-weight="normal" fill="#262626" >30.81</text>
<text x="290.30" y="388.5" font-size="15.9" text-anchor="end" font-weight="normal" fill="#262626" >.494</text>
<text x="343.60" y="388.5" font-size="15.9" text-anchor="end" font-weight="normal" fill="#262626" >12.55</text>
<text x="399.80" y="388.5" font-size="15.9" text-anchor="end" font-weight="normal" fill="#262626" >.984</text>
<text x="452.60" y="388.5" font-size="15.9" text-anchor="end" font-weight="normal" fill="#262626" >24.99</text>
<text x="508.30" y="388.5" font-size="15.9" text-anchor="end" font-weight="normal" fill="#262626" >.726</text>
<text x="562.10" y="388.5" font-size="15.9" text-anchor="end" font-weight="normal" fill="#262626" >18.44</text>
<text x="617.80" y="388.5" font-size="15.9" text-anchor="end" font-weight="normal" fill="#262626" >.389</text>
<text x="671.10" y="388.5" font-size="15.9" text-anchor="end" font-weight="normal" fill="#262626" >9.88</text>
<text x="726.80" y="388.5" font-size="15.9" text-anchor="end" font-weight="normal" fill="#262626" >.769</text>
<text x="780.10" y="388.5" font-size="15.9" text-anchor="end" font-weight="normal" fill="#262626" >19.53</text>
<text x="836.30" y="388.5" font-size="15.9" text-anchor="end" font-weight="normal" fill="#262626" >.432</text>
<text x="889.10" y="388.5" font-size="15.9" text-anchor="end" font-weight="normal" fill="#262626" >10.97</text>
<text x="105.5" y="412.2" font-size="17" text-anchor="middle" font-weight="bold" fill="#1c1c1c" >2</text>
<text x="181.60" y="411.9" font-size="15.9" text-anchor="end" font-weight="normal" fill="#262626" >1.541</text>
<text x="234.60" y="411.9" font-size="15.9" text-anchor="end" font-weight="normal" fill="#262626" >39.14</text>
<text x="290.30" y="411.9" font-size="15.9" text-anchor="end" font-weight="normal" fill="#262626" >.494</text>
<text x="343.60" y="411.9" font-size="15.9" text-anchor="end" font-weight="normal" fill="#262626" >12.55</text>
<text x="399.80" y="411.9" font-size="15.9" text-anchor="end" font-weight="normal" fill="#262626" >1.312</text>
<text x="452.60" y="411.9" font-size="15.9" text-anchor="end" font-weight="normal" fill="#262626" >33.32</text>
<text x="508.30" y="411.9" font-size="15.9" text-anchor="end" font-weight="normal" fill="#262626" >1.054</text>
<text x="562.10" y="411.9" font-size="15.9" text-anchor="end" font-weight="normal" fill="#262626" >26.77</text>
<text x="617.80" y="411.9" font-size="15.9" text-anchor="end" font-weight="normal" fill="#262626" >.389</text>
<text x="671.10" y="411.9" font-size="15.9" text-anchor="end" font-weight="normal" fill="#262626" >9.88</text>
<text x="726.80" y="411.9" font-size="15.9" text-anchor="end" font-weight="normal" fill="#262626" >1.093</text>
<text x="780.10" y="411.9" font-size="15.9" text-anchor="end" font-weight="normal" fill="#262626" >27.76</text>
<text x="836.30" y="411.9" font-size="15.9" text-anchor="end" font-weight="normal" fill="#262626" >.432</text>
<text x="889.10" y="411.9" font-size="15.9" text-anchor="end" font-weight="normal" fill="#262626" >10.97</text>
<text x="105.5" y="435.6" font-size="17" text-anchor="middle" font-weight="bold" fill="#1c1c1c" >3</text>
<text x="181.60" y="435.3" font-size="15.9" text-anchor="end" font-weight="normal" fill="#262626" >2.088</text>
<text x="234.60" y="435.3" font-size="15.9" text-anchor="end" font-weight="normal" fill="#262626" >53.04</text>
<text x="290.30" y="435.3" font-size="15.9" text-anchor="end" font-weight="normal" fill="#262626" >.494</text>
<text x="343.60" y="435.3" font-size="15.9" text-anchor="end" font-weight="normal" fill="#262626" >12.55</text>
<text x="399.80" y="435.3" font-size="15.9" text-anchor="end" font-weight="normal" fill="#262626" >1.852</text>
<text x="452.60" y="435.3" font-size="15.9" text-anchor="end" font-weight="normal" fill="#262626" >47.04</text>
<text x="508.30" y="435.3" font-size="15.9" text-anchor="end" font-weight="normal" fill="#262626" >1.594</text>
<text x="562.10" y="435.3" font-size="15.9" text-anchor="end" font-weight="normal" fill="#262626" >40.49</text>
<text x="617.80" y="435.3" font-size="15.9" text-anchor="end" font-weight="normal" fill="#262626" >.389</text>
<text x="671.10" y="435.3" font-size="15.9" text-anchor="end" font-weight="normal" fill="#262626" >9.88</text>
<text x="726.80" y="435.3" font-size="15.9" text-anchor="end" font-weight="normal" fill="#262626" >1.635</text>
<text x="780.10" y="435.3" font-size="15.9" text-anchor="end" font-weight="normal" fill="#262626" >41.53</text>
<text x="836.30" y="435.3" font-size="15.9" text-anchor="end" font-weight="normal" fill="#262626" >.432</text>
<text x="889.10" y="435.3" font-size="15.9" text-anchor="end" font-weight="normal" fill="#262626" >10.97</text>
<text x="105.5" y="459.0" font-size="17" text-anchor="middle" font-weight="bold" fill="#1c1c1c" >4</text>
<text x="181.60" y="458.7" font-size="15.9" text-anchor="end" font-weight="normal" fill="#262626" >2.729</text>
<text x="234.60" y="458.7" font-size="15.9" text-anchor="end" font-weight="normal" fill="#262626" >69.32</text>
<text x="290.30" y="458.7" font-size="15.9" text-anchor="end" font-weight="normal" fill="#262626" >.494</text>
<text x="343.60" y="458.7" font-size="15.9" text-anchor="end" font-weight="normal" fill="#262626" >12.55</text>
<text x="399.80" y="458.7" font-size="15.9" text-anchor="end" font-weight="normal" fill="#262626" >2.500</text>
<text x="452.60" y="458.7" font-size="15.9" text-anchor="end" font-weight="normal" fill="#262626" >63.50</text>
<text x="508.30" y="458.7" font-size="15.9" text-anchor="end" font-weight="normal" fill="#262626" >2.242</text>
<text x="562.10" y="458.7" font-size="15.9" text-anchor="end" font-weight="normal" fill="#262626" >56.95</text>
<text x="617.80" y="458.7" font-size="15.9" text-anchor="end" font-weight="normal" fill="#262626" >.389</text>
<text x="671.10" y="458.7" font-size="15.9" text-anchor="end" font-weight="normal" fill="#262626" >9.88</text>
<text x="726.80" y="458.7" font-size="15.9" text-anchor="end" font-weight="normal" fill="#262626" >2.282</text>
<text x="780.10" y="458.7" font-size="15.9" text-anchor="end" font-weight="normal" fill="#262626" >57.96</text>
<text x="836.30" y="458.7" font-size="15.9" text-anchor="end" font-weight="normal" fill="#262626" >.432</text>
<text x="889.10" y="458.7" font-size="15.9" text-anchor="end" font-weight="normal" fill="#262626" >10.97</text>
<text x="105.5" y="482.40000000000003" font-size="17" text-anchor="middle" font-weight="bold" fill="#1c1c1c" >5</text>
<text x="181.60" y="482.1" font-size="15.9" text-anchor="end" font-weight="normal" fill="#262626" >2.635</text>
<text x="234.60" y="482.1" font-size="15.9" text-anchor="end" font-weight="normal" fill="#262626" >66.93</text>
<text x="290.30" y="482.1" font-size="15.9" text-anchor="end" font-weight="normal" fill="#262626" >.605</text>
<text x="343.60" y="482.1" font-size="15.9" text-anchor="end" font-weight="normal" fill="#262626" >15.37</text>
<text x="399.80" y="482.1" font-size="15.9" text-anchor="end" font-weight="normal" fill="#262626" >2.406</text>
<text x="452.60" y="482.1" font-size="15.9" text-anchor="end" font-weight="normal" fill="#262626" >61.11</text>
<text x="508.30" y="482.1" font-size="15.9" text-anchor="end" font-weight="normal" fill="#262626" >2.139</text>
<text x="562.10" y="482.1" font-size="15.9" text-anchor="end" font-weight="normal" fill="#262626" >54.33</text>
<text x="617.80" y="482.1" font-size="15.9" text-anchor="end" font-weight="normal" fill="#262626" >.501</text>
<text x="671.10" y="482.1" font-size="15.9" text-anchor="end" font-weight="normal" fill="#262626" >12.73</text>
<text x="726.80" y="482.1" font-size="15.9" text-anchor="end" font-weight="normal" fill="#262626" >2.188</text>
<text x="780.10" y="482.1" font-size="15.9" text-anchor="end" font-weight="normal" fill="#262626" >55.58</text>
<text x="836.30" y="482.1" font-size="15.9" text-anchor="end" font-weight="normal" fill="#262626" >.544</text>
<text x="889.10" y="482.1" font-size="15.9" text-anchor="end" font-weight="normal" fill="#262626" >13.82</text>
<text x="105.5" y="505.8" font-size="17" text-anchor="middle" font-weight="bold" fill="#1c1c1c" >6</text>
<text x="181.60" y="505.5" font-size="15.9" text-anchor="end" font-weight="normal" fill="#262626" >2.729</text>
<text x="234.60" y="505.5" font-size="15.9" text-anchor="end" font-weight="normal" fill="#262626" >69.32</text>
<text x="290.30" y="505.5" font-size="15.9" text-anchor="end" font-weight="normal" fill="#262626" >.668</text>
<text x="343.60" y="505.5" font-size="15.9" text-anchor="end" font-weight="normal" fill="#262626" >16.97</text>
<text x="399.80" y="505.5" font-size="15.9" text-anchor="end" font-weight="normal" fill="#262626" >2.500</text>
<text x="452.60" y="505.5" font-size="15.9" text-anchor="end" font-weight="normal" fill="#262626" >63.50</text>
<text x="508.30" y="505.5" font-size="15.9" text-anchor="end" font-weight="normal" fill="#262626" >2.272</text>
<text x="562.10" y="505.5" font-size="15.9" text-anchor="end" font-weight="normal" fill="#262626" >57.71</text>
<text x="617.80" y="505.5" font-size="15.9" text-anchor="end" font-weight="normal" fill="#262626" >.563</text>
<text x="671.10" y="505.5" font-size="15.9" text-anchor="end" font-weight="normal" fill="#262626" >14.30</text>
<text x="726.80" y="505.5" font-size="15.9" text-anchor="end" font-weight="normal" fill="#262626" >2.312</text>
<text x="780.10" y="505.5" font-size="15.9" text-anchor="end" font-weight="normal" fill="#262626" >58.72</text>
<text x="836.30" y="505.5" font-size="15.9" text-anchor="end" font-weight="normal" fill="#262626" >.606</text>
<text x="889.10" y="505.5" font-size="15.9" text-anchor="end" font-weight="normal" fill="#262626" >15.39</text>
</svg>
</body></html>
